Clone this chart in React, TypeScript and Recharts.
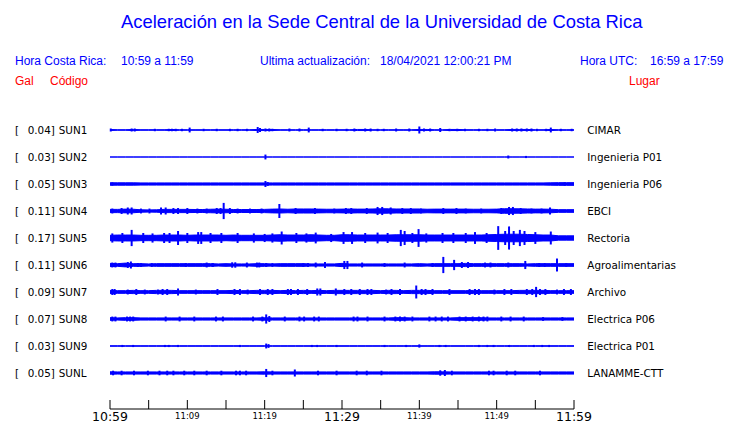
import { ComposedChart, Area, Scatter, ErrorBar, XAxis, YAxis } from 'recharts';

const stations = ['SUN1', 'SUN2', 'SUN3', 'SUN4', 'SUN5', 'SUN6', 'SUN7', 'SUN8', 'SUN9', 'SUNL'];
const peakGal = ['0.04', '0.03', '0.05', '0.11', '0.17', '0.11', '0.09', '0.07', '0.03', '0.05'];
const places = [
  'CIMAR',
  'Ingenieria P01',
  'Ingenieria P06',
  'EBCI',
  'Rectoria',
  'Agroalimentarias',
  'Archivo',
  'Electrica P06',
  'Electrica P01',
  'LANAMME-CTT',
];

// minutes after 10:59 local time
const minutes = [
  0, 1, 2, 3, 4, 5, 6, 7, 8, 9, 10, 11, 12, 13, 14, 15, 16, 17, 18, 19, 20, 21, 22, 23, 24, 25, 26, 27, 28, 29, 30,
  31, 32, 33, 34, 35, 36, 37, 38, 39, 40, 41, 42, 43, 44, 45, 46, 47, 48, 49, 50, 51, 52, 53, 54, 55, 56, 57, 58, 59,
  60,
];
const tickMinutes = [0, 5, 10, 15, 20, 25, 30, 35, 40, 45, 50, 55, 60];
const labelMinutes = [0, 10, 20, 30, 40, 50, 60];
const tickLabels = ['10:59', '11:09', '11:19', '11:29', '11:39', '11:49', '11:59'];

// half-width of each trace's noise envelope per minute (1 = distance between traces)
const band_SUN1 = [
  0.02, 0.01, 0.01, 0.02, 0.01, 0.01, 0.01, 0.01, 0.02, 0.01, 0.01, 0.01, 0.01, 0.01, 0.01, 0.01, 0.01, 0.01, 0.01,
  0.02, 0.02, 0.02, 0.01, 0.01, 0.01, 0.01, 0.01, 0.01, 0.01, 0.01, 0.01, 0.01, 0.02, 0.02, 0.01, 0.01, 0.01, 0.01,
  0.01, 0.01, 0.02, 0.02, 0.01, 0.01, 0.02, 0.02, 0.01, 0.01, 0.01, 0.01, 0.01, 0.01, 0.02, 0.02, 0.02, 0.01, 0.01,
  0.02, 0.01, 0.01, 0.01,
];
const band_SUN2 = [
  0, 0, 0, 0, 0, 0, 0, 0, 0, 0, 0, 0, 0, 0, 0, 0, 0, 0, 0, 0, 0, 0, 0, 0, 0, 0, 0, 0, 0, 0, 0, 0, 0, 0, 0, 0, 0, 0, 0,
  0, 0, 0, 0, 0, 0, 0, 0, 0, 0, 0, 0, 0, 0, 0, 0, 0, 0, 0, 0, 0, 0,
];
const band_SUN3 = [
  0.045, 0.045, 0.045, 0.045, 0.04, 0.04, 0.04, 0.04, 0.04, 0.04, 0.04, 0.04, 0.04, 0.04, 0.04, 0.04, 0.04, 0.04, 0.04,
  0.04, 0.04, 0.04, 0.04, 0.04, 0.04, 0.04, 0.04, 0.04, 0.04, 0.04, 0.04, 0.04, 0.04, 0.04, 0.04, 0.04, 0.04, 0.04,
  0.04, 0.04, 0.04, 0.04, 0.04, 0.04, 0.04, 0.04, 0.04, 0.04, 0.04, 0.04, 0.04, 0.04, 0.04, 0.04, 0.04, 0.04, 0.04,
  0.045, 0.05, 0.05, 0.05,
];
const band_SUN4 = [
  0.06, 0.06, 0.07, 0.065, 0.045, 0.04, 0.045, 0.06, 0.06, 0.06, 0.06, 0.055, 0.055, 0.065, 0.07, 0.065, 0.055, 0.055,
  0.055, 0.055, 0.06, 0.07, 0.075, 0.065, 0.075, 0.075, 0.075, 0.07, 0.065, 0.065, 0.07, 0.075, 0.07, 0.07, 0.075,
  0.085, 0.08, 0.075, 0.075, 0.075, 0.075, 0.065, 0.07, 0.07, 0.07, 0.07, 0.07, 0.065, 0.065, 0.065, 0.07, 0.085, 0.085,
  0.08, 0.075, 0.07, 0.07, 0.065, 0.05, 0.05, 0.05,
];
const band_SUN5 = [
  0.1, 0.11, 0.11, 0.11, 0.1, 0.1, 0.1, 0.11, 0.11, 0.11, 0.1, 0.11, 0.11, 0.11, 0.11, 0.1, 0.11, 0.1, 0.1, 0.1, 0.1,
  0.11, 0.12, 0.11, 0.11, 0.11, 0.12, 0.11, 0.1, 0.1, 0.12, 0.12, 0.11, 0.11, 0.11, 0.11, 0.11, 0.12, 0.12, 0.12, 0.12,
  0.11, 0.11, 0.11, 0.11, 0.11, 0.11, 0.11, 0.11, 0.12, 0.13, 0.14, 0.14, 0.14, 0.13, 0.12, 0.11, 0.11, 0.08, 0.08,
  0.08,
];
const band_SUN6 = [
  0.06, 0.05, 0.07, 0.05, 0.05, 0.04, 0.05, 0.05, 0.05, 0.05, 0.05, 0.05, 0.05, 0.05, 0.04, 0.05, 0.04, 0.04, 0.04,
  0.05, 0.05, 0.04, 0.05, 0.05, 0.05, 0.05, 0.04, 0.04, 0.04, 0.04, 0.06, 0.04, 0.04, 0.04, 0.04, 0.04, 0.04, 0.04,
  0.04, 0.04, 0.05, 0.04, 0.05, 0.05, 0.05, 0.05, 0.06, 0.05, 0.05, 0.05, 0.05, 0.05, 0.05, 0.05, 0.04, 0.05, 0.05,
  0.05, 0.05, 0.05, 0.05,
];
const band_SUN7 = [
  0.06, 0.05, 0.05, 0.06, 0.05, 0.05, 0.06, 0.06, 0.06, 0.05, 0.05, 0.05, 0.05, 0.05, 0.05, 0.05, 0.06, 0.05, 0.05,
  0.06, 0.06, 0.06, 0.05, 0.06, 0.05, 0.06, 0.05, 0.06, 0.05, 0.06, 0.06, 0.06, 0.06, 0.06, 0.06, 0.05, 0.06, 0.06,
  0.05, 0.06, 0.06, 0.06, 0.05, 0.05, 0.05, 0.05, 0.05, 0.06, 0.05, 0.05, 0.05, 0.05, 0.05, 0.06, 0.06, 0.06, 0.06,
  0.05, 0.05, 0.05, 0.05,
];
const band_SUN8 = [
  0.05, 0.04, 0.05, 0.05, 0.04, 0.04, 0.04, 0.04, 0.04, 0.04, 0.04, 0.04, 0.04, 0.04, 0.04, 0.04, 0.04, 0.04, 0.04,
  0.04, 0.05, 0.04, 0.04, 0.04, 0.04, 0.04, 0.04, 0.04, 0.04, 0.04, 0.04, 0.04, 0.04, 0.04, 0.04, 0.04, 0.04, 0.05,
  0.05, 0.04, 0.04, 0.04, 0.04, 0.04, 0.04, 0.05, 0.05, 0.05, 0.05, 0.04, 0.04, 0.04, 0.04, 0.04, 0.04, 0.04, 0.04,
  0.04, 0.04, 0.04, 0.04,
];
const band_SUN9 = [
  0.01, 0.01, 0.01, 0.01, 0.01, 0.01, 0.01, 0.01, 0.01, 0.01, 0.01, 0.01, 0.01, 0.01, 0.01, 0.01, 0.01, 0.01, 0.01,
  0.01, 0.01, 0.01, 0.01, 0.01, 0.01, 0.01, 0.01, 0.01, 0.01, 0.01, 0.01, 0.01, 0.01, 0.01, 0.01, 0.01, 0.01, 0.01,
  0.01, 0.01, 0.01, 0.01, 0.01, 0.01, 0.01, 0.01, 0.01, 0.01, 0.01, 0.01, 0.01, 0.01, 0.01, 0.01, 0.01, 0.01, 0.01,
  0.01, 0.01, 0.01, 0.01,
];
const band_SUNL = [
  0.045, 0.04, 0.04, 0.04, 0.04, 0.04, 0.04, 0.04, 0.04, 0.04, 0.04, 0.04, 0.04, 0.04, 0.04, 0.04, 0.04, 0.04, 0.04,
  0.04, 0.045, 0.04, 0.04, 0.04, 0.04, 0.04, 0.04, 0.04, 0.04, 0.04, 0.04, 0.04, 0.04, 0.04, 0.04, 0.04, 0.04, 0.04,
  0.04, 0.04, 0.04, 0.04, 0.045, 0.045, 0.04, 0.04, 0.04, 0.04, 0.04, 0.04, 0.04, 0.04, 0.04, 0.04, 0.04, 0.04, 0.04,
  0.04, 0.04, 0.04, 0.04,
];

// short bursts: [minute, half-amplitude]
const spikes_SUN1 = [
  [0.1, 0.055], [2.8, 0.055], [3.2, 0.055], [5.8, 0.045], [7.6, 0.045], [8.0, 0.045], [8.5, 0.045], [9.3, 0.045],
  [10.3, 0.09], [12.1, 0.045], [13.8, 0.045], [15.5, 0.045], [16.5, 0.045], [17.7, 0.045], [19.1, 0.11], [19.4, 0.075],
  [20.1, 0.055], [20.6, 0.055], [21.0, 0.045], [23.2, 0.055], [24.5, 0.055], [25.7, 0.09], [27.5, 0.045], [29.3, 0.045],
  [30.6, 0.045], [31.6, 0.055], [33.0, 0.055], [33.7, 0.055], [34.6, 0.045], [35.4, 0.045], [37.0, 0.055], [38.7, 0.055],
  [40.0, 0.13], [40.6, 0.055], [41.4, 0.055], [42.7, 0.075], [43.9, 0.045], [44.9, 0.045], [45.9, 0.045], [47.7, 0.045],
  [48.8, 0.045], [49.8, 0.055], [52.0, 0.055], [52.6, 0.055], [53.2, 0.055], [53.9, 0.055], [54.5, 0.055], [55.2, 0.045],
  [56.4, 0.045], [57.0, 0.09], [58.3, 0.045], [59.7, 0.045],
];
const spikes_SUN2 = [[20.1, 0.09], [51.5, 0.055], [53.8, 0.04]];
const spikes_SUN3 = [[0.3, 0.06], [20.1, 0.11], [20.4, 0.07], [58.8, 0.06]];
const spikes_SUN4 = [
  [0.3, 0.09], [1.5, 0.11], [2.3, 0.13], [2.8, 0.13], [4.0, 0.09], [5.1, 0.09], [6.6, 0.13], [7.2, 0.13], [8.2, 0.11],
  [8.8, 0.11], [10.0, 0.11], [11.3, 0.09], [12.5, 0.09], [13.8, 0.11], [14.3, 0.11], [14.7, 0.3], [15.5, 0.11],
  [16.5, 0.09], [18.1, 0.09], [19.6, 0.09], [21.9, 0.26], [24.0, 0.11], [26.5, 0.11], [29.0, 0.09], [30.5, 0.11],
  [31.2, 0.11], [33.2, 0.11], [34.6, 0.15], [35.2, 0.15], [36.3, 0.13], [37.8, 0.11], [38.9, 0.11], [40.2, 0.09],
  [43.1, 0.11], [44.8, 0.11], [46.0, 0.09], [48.0, 0.09], [50.6, 0.11], [51.6, 0.15], [52.1, 0.15], [53.1, 0.11],
  [54.5, 0.09], [55.8, 0.09], [56.9, 0.13],
];
const spikes_SUN5 = [
  [0.3, 0.17], [1.6, 0.185], [2.8, 0.3], [4.3, 0.185], [5.5, 0.17], [7.0, 0.185], [7.7, 0.185], [8.8, 0.26],
  [10.0, 0.185], [11.4, 0.22], [11.8, 0.22], [13.0, 0.185], [14.4, 0.185], [16.5, 0.185], [18.6, 0.17], [20.0, 0.15],
  [21.0, 0.17], [22.2, 0.24], [24.1, 0.185], [25.4, 0.17], [26.6, 0.2], [28.6, 0.15], [30.2, 0.22], [31.3, 0.22],
  [33.0, 0.185], [34.6, 0.2], [35.9, 0.185], [37.6, 0.3], [38.1, 0.26], [39.1, 0.185], [39.9, 0.33], [40.9, 0.17],
  [43.0, 0.185], [44.4, 0.185], [46.0, 0.185], [47.2, 0.22], [48.7, 0.185], [50.2, 0.44], [51.1, 0.26], [51.6, 0.43],
  [52.2, 0.26], [53.0, 0.3], [53.6, 0.26], [55.0, 0.22], [57.0, 0.24],
];
const spikes_SUN6 = [
  [0.3, 0.09], [0.7, 0.09], [2.3, 0.11], [2.7, 0.13], [3.6, 0.07], [4.0, 0.07], [5.4, 0.07], [9.8, 0.07], [12.5, 0.09],
  [13.3, 0.07], [15.8, 0.1], [16.2, 0.1], [17.7, 0.09], [19.0, 0.09], [19.3, 0.09], [20.2, 0.07], [21.0, 0.07],
  [25.0, 0.07], [25.6, 0.07], [26.6, 0.09], [27.8, 0.11], [30.3, 0.15], [30.7, 0.15], [32.6, 0.09], [35.5, 0.07],
  [38.1, 0.09], [41.7, 0.07], [43.1, 0.3], [44.5, 0.19], [45.5, 0.11], [46.3, 0.11], [48.5, 0.09], [49.2, 0.09],
  [51.5, 0.09], [53.7, 0.15], [55.5, 0.07], [56.2, 0.07], [57.8, 0.24], [59.0, 0.07],
];
const spikes_SUN7 = [
  [0.3, 0.11], [0.6, 0.11], [2.3, 0.09], [3.4, 0.11], [4.5, 0.09], [6.2, 0.09], [6.8, 0.11], [7.4, 0.11], [8.8, 0.13],
  [11.1, 0.09], [13.9, 0.11], [16.1, 0.11], [16.8, 0.11], [17.8, 0.09], [19.4, 0.11], [20.4, 0.11], [21.0, 0.11],
  [23.0, 0.11], [23.4, 0.11], [24.3, 0.11], [25.5, 0.11], [26.8, 0.13], [27.2, 0.13], [29.2, 0.13], [30.3, 0.11],
  [31.2, 0.11], [32.3, 0.11], [33.3, 0.11], [33.8, 0.11], [35.7, 0.09], [36.4, 0.11], [37.5, 0.11], [39.6, 0.24],
  [40.3, 0.11], [40.8, 0.11], [41.7, 0.11], [43.9, 0.11], [46.5, 0.11], [47.2, 0.11], [47.7, 0.11], [49.7, 0.09],
  [51.0, 0.11], [51.9, 0.11], [53.9, 0.11], [54.6, 0.11], [55.1, 0.19], [55.6, 0.11], [56.3, 0.11], [57.8, 0.09],
  [58.7, 0.11], [59.6, 0.11],
];
const spikes_SUN8 = [
  [0.3, 0.09], [0.7, 0.09], [2.2, 0.09], [2.6, 0.09], [3.0, 0.09], [7.2, 0.09], [9.0, 0.09], [10.9, 0.09], [13.7, 0.09],
  [14.6, 0.09], [18.5, 0.09], [19.7, 0.09], [20.2, 0.17], [20.6, 0.11], [22.6, 0.09], [24.5, 0.09], [25.1, 0.09],
  [26.4, 0.09], [27.0, 0.09], [31.5, 0.09], [32.0, 0.09], [33.3, 0.09], [35.5, 0.09], [36.9, 0.09], [37.5, 0.09],
  [38.1, 0.09], [39.1, 0.09], [41.3, 0.09], [42.1, 0.09], [42.9, 0.09], [43.7, 0.09], [45.2, 0.09], [46.0, 0.09],
  [46.9, 0.09], [47.7, 0.09], [48.3, 0.09], [48.8, 0.09], [50.6, 0.09], [51.8, 0.09], [53.5, 0.09], [56.0, 0.07],
  [58.5, 0.07],
];
const spikes_SUN9 = [
  [1.6, 0.04], [3.0, 0.04], [7.1, 0.04], [7.6, 0.04], [8.8, 0.04], [16.8, 0.04], [20.2, 0.09], [20.5, 0.07],
  [26.1, 0.04], [26.8, 0.04], [29.3, 0.04], [35.5, 0.04], [38.3, 0.04], [40.0, 0.06], [42.6, 0.04], [43.4, 0.04],
  [47.7, 0.04], [48.8, 0.04], [49.6, 0.04], [51.6, 0.04], [54.8, 0.04], [55.9, 0.04], [56.8, 0.04],
];
const spikes_SUNL = [
  [0.4, 0.085], [1.5, 0.085], [3.1, 0.085], [4.9, 0.085], [6.4, 0.085], [7.4, 0.085], [8.2, 0.085], [9.6, 0.085],
  [10.9, 0.085], [12.5, 0.085], [14.4, 0.085], [16.3, 0.085], [16.8, 0.085], [17.6, 0.085], [20.2, 0.15], [21.0, 0.085],
  [23.9, 0.13], [26.9, 0.085], [29.3, 0.085], [31.9, 0.085], [33.2, 0.085], [35.1, 0.085], [42.7, 0.1], [43.3, 0.11],
  [44.2, 0.085], [49.0, 0.085], [49.6, 0.085], [51.3, 0.085], [52.4, 0.085], [55.6, 0.085],
];

const bands = [band_SUN1, band_SUN2, band_SUN3, band_SUN4, band_SUN5, band_SUN6, band_SUN7, band_SUN8, band_SUN9, band_SUNL];
const spikes = [
  spikes_SUN1, spikes_SUN2, spikes_SUN3, spikes_SUN4, spikes_SUN5,
  spikes_SUN6, spikes_SUN7, spikes_SUN8, spikes_SUN9, spikes_SUNL,
];

const BLUE = '#0000ff';
const RED = '#ff0000';
const SANS = '"Liberation Sans", Arial, sans-serif';
const DEJAVU = '"DejaVu Sans", sans-serif';

const table = minutes.map((t, k) => {
  const row: Record<string, number | number[]> = { t };
  stations.forEach((s, i) => {
    row[s] = [i - bands[i][k], i + bands[i][k]];
  });
  return row;
});

const spikePoints = spikes.flatMap((list, i) => list.map(([t, a]) => ({ t, y: i, e: a })));

function LeftTick({ y, payload }: any) {
  const i = payload.value;
  return (
    <g fontFamily={DEJAVU} fontSize={10.4} fill="#000">
      <text x={15} y={y + 4}>[</text>
      <text x={27.7} y={y + 4}>{`${peakGal[i]}]`}</text>
      <text x={58.7} y={y + 4}>{stations[i]}</text>
    </g>
  );
}

function RightTick({ y, payload }: any) {
  return (
    <text x={587.3} y={y + 4} fontFamily={DEJAVU} fontSize={10.4} fill="#000">
      {places[payload.value]}
    </text>
  );
}

function TimeTick({ x, payload }: any) {
  const k = labelMinutes.indexOf(payload.value);
  if (k < 0) return <g />;
  const big = payload.value % 30 === 0;
  return (
    <text
      x={x}
      y={big ? 421 : 419}
      textAnchor="middle"
      fontFamily={DEJAVU}
      fontSize={big ? 12.5 : 8.5}
      fill="#000"
    >
      {tickLabels[k]}
    </text>
  );
}

export default function App() {
  return (
    <div style={{ position: 'absolute', left: 0, top: 0, width: 740, height: 423, background: '#fff' }}>
      <ComposedChart width={740} height={423} data={table} margin={{ top: 103, right: 0, bottom: 0, left: 0 }}>
        <XAxis
          dataKey="t"
          type="number"
          domain={[0, 60]}
          allowDataOverflow
          ticks={tickMinutes}
          interval={0}
          height={14}
          tickSize={-9}
          tickMargin={9}
          stroke="#000"
          tick={(p: any) => <TimeTick {...p} />}
        />
        <YAxis
          yAxisId="l"
          type="number"
          domain={[-1, 31 / 3]}
          allowDataOverflow
          reversed
          width={110}
          ticks={[0, 1, 2, 3, 4, 5, 6, 7, 8, 9]}
          interval={0}
          axisLine={false}
          tickLine={false}
          tick={(p: any) => <LeftTick {...p} />}
        />
        <YAxis
          yAxisId="r"
          orientation="right"
          type="number"
          domain={[-1, 31 / 3]}
          allowDataOverflow
          reversed
          width={166}
          ticks={[0, 1, 2, 3, 4, 5, 6, 7, 8, 9]}
          interval={0}
          axisLine={false}
          tickLine={false}
          tick={(p: any) => <RightTick {...p} />}
        />
        {stations.map((s) => (
          <Area
            key={s}
            yAxisId="l"
            dataKey={s}
            type="linear"
            stroke={BLUE}
            strokeWidth={1}
            fill={BLUE}
            fillOpacity={1}
            dot={false}
            activeDot={false}
            isAnimationActive={false}
          />
        ))}
        <Scatter
          yAxisId="l"
          data={spikePoints}
          dataKey="y"
          fill={BLUE}
          shape={() => <g />}
          isAnimationActive={false}
        >
          <ErrorBar dataKey="e" direction="y" width={0} stroke={BLUE} strokeWidth={2} isAnimationActive={false} />
        </Scatter>
      </ComposedChart>
      <svg width={740} height={423} style={{ position: 'absolute', left: 0, top: 0, pointerEvents: 'none' }}>
        <text x={121} y={28} fontFamily={SANS} fontSize={18.4} fill={BLUE}>
          Aceleración en la Sede Central de la Universidad de Costa Rica
        </text>
        <g fontFamily={SANS} fontSize={12} fill={BLUE}>
          <text x={15} y={65}>Hora Costa Rica:</text>
          <text x={121} y={65}>10:59 a 11:59</text>
          <text x={260} y={65}>Ultima actualización:</text>
          <text x={380} y={65}>18/04/2021 12:00:21 PM</text>
          <text x={580} y={65}>Hora UTC:</text>
          <text x={650} y={65}>16:59 a 17:59</text>
        </g>
        <g fontFamily={SANS} fontSize={12} fill={RED}>
          <text x={15} y={85}>Gal</text>
          <text x={50} y={85}>Código</text>
          <text x={629} y={85}>Lugar</text>
        </g>
      </svg>
    </div>
  );
}
